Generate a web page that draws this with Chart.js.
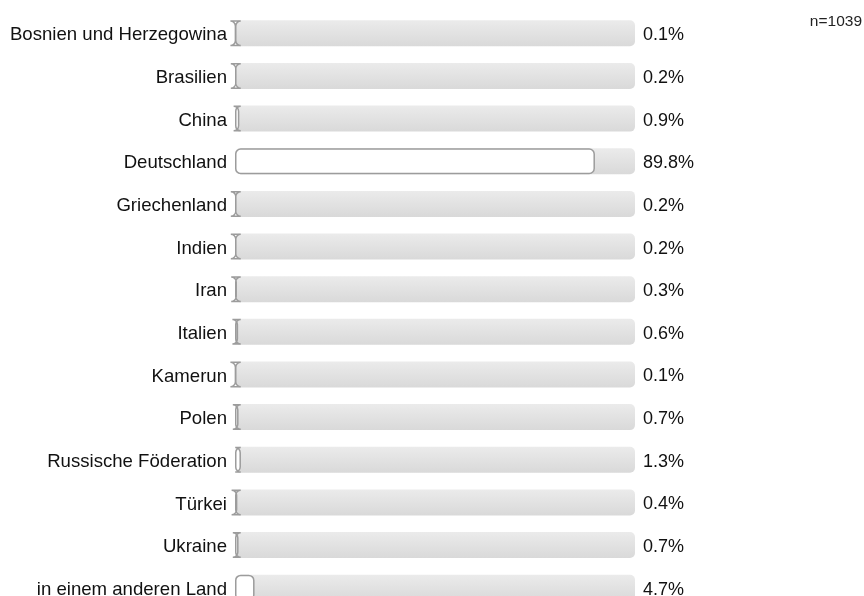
<!DOCTYPE html>
<html>
<head>
<meta charset="utf-8">
<script src="https://cdn.jsdelivr.net/npm/chart.js@4"></script>
<style>
  html, body { margin:0; padding:0; background:#fff; overflow:hidden; }
  #wrap { position:relative; width:864px; height:610px; }
  #note { position:absolute; right:2px; top:12px; font:15.5px "Liberation Sans", Arial, sans-serif; color:#222; }
</style>
</head>
<body>
<div id="wrap">
  <canvas id="chart" width="864" height="610"></canvas>
  <div id="note">n=1039</div>
</div>
<script>
let countries = ["Bosnien und Herzegowina","Brasilien","China","Deutschland","Griechenland","Indien","Iran",
  "Italien","Kamerun","Polen","Russische Föderation","Türkei","Ukraine","in einem anderen Land"];
let shares = [0.1,0.2,0.9,89.8,0.2,0.2,0.3,0.6,0.1,0.7,1.3,0.4,0.7,4.7];
let track = countries.map(()=>100);

const FONT = '"Liberation Sans", Arial, sans-serif';

// rounded box; radius is not clamped, so tiny bars get the flared "I" look
function roundBox(ctx, x0, x1, y0, y1, r){
  ctx.beginPath();
  ctx.moveTo(x0, y0+r);
  ctx.arc(x0+r, y0+r, r, Math.PI, 1.5*Math.PI);
  ctx.lineTo(x1-r, y0);
  ctx.arc(x1-r, y0+r, r, 1.5*Math.PI, 2*Math.PI);
  ctx.lineTo(x1, y1-r);
  ctx.arc(x1-r, y1-r, r, 0, 0.5*Math.PI);
  ctx.lineTo(x0+r, y1);
  ctx.arc(x0+r, y1-r, r, 0.5*Math.PI, Math.PI);
  ctx.closePath();
}

const barsPlugin = {
  id:"bars",
  afterDatasetsDraw(chart){
    let ctx = chart.ctx;
    let trackMeta = chart.getDatasetMeta(0);
    let valMeta = chart.getDatasetMeta(1);
    ctx.save();
    trackMeta.data.forEach((el,i)=>{
      let h = el.height, top = el.y - h/2, bot = el.y + h/2;
      let g = ctx.createLinearGradient(0, top, 0, bot);
      g.addColorStop(0, "#ebebeb");
      g.addColorStop(1, "#d9d9d9");
      ctx.fillStyle = g;
      roundBox(ctx, el.base, el.x, top, bot, 5);
      ctx.fill();
    });
    valMeta.data.forEach((el,i)=>{
      let h = el.height, top = el.y - h/2 + 0.75, bot = el.y + h/2 - 0.75;
      roundBox(ctx, el.base + 0.75, el.x, top, bot, 5);
      ctx.fillStyle = "#fff";
      ctx.fill();
      ctx.lineWidth = 1.5;
      ctx.strokeStyle = "#9c9c9c";
      ctx.stroke();
    });
    ctx.fillStyle = "#111";
    ctx.font = '18px ' + FONT;
    ctx.textBaseline = "middle";
    ctx.textAlign = "left";
    trackMeta.data.forEach((el,i)=>{
      ctx.fillText(shares[i].toFixed(1) + "%", chart.chartArea.right + 8, el.y + 2);
    });
    ctx.restore();
  }
};

chart = new Chart(document.getElementById("chart"), {
  type:"bar",
  data:{
    labels:countries,
    datasets:[
      {data:track, backgroundColor:"rgba(0,0,0,0)", barThickness:26, grouped:false, order:2},
      {data:shares, backgroundColor:"rgba(0,0,0,0)", barThickness:26, grouped:false, order:1}
    ]
  },
  options:{
    indexAxis:"y",
    responsive:false,
    animation:false,
    devicePixelRatio:1,
    layout:{padding:{top:12, bottom:1, left:0, right:229}},
    plugins:{legend:{display:false}, tooltip:{enabled:false}},
    scales:{
      x:{min:0, max:100, display:false},
      y:{
        grid:{display:false, drawTicks:false},
        border:{display:false},
        ticks:{color:"#111", padding:8, labelOffset:2, autoSkip:false, font:{family:FONT, size:18.6}},
        afterFit(s){ s.width = 235; s.paddingTop = 0; s.paddingBottom = 0; }
      }
    }
  },
  plugins:[barsPlugin]
});
</script>
</body>
</html>
